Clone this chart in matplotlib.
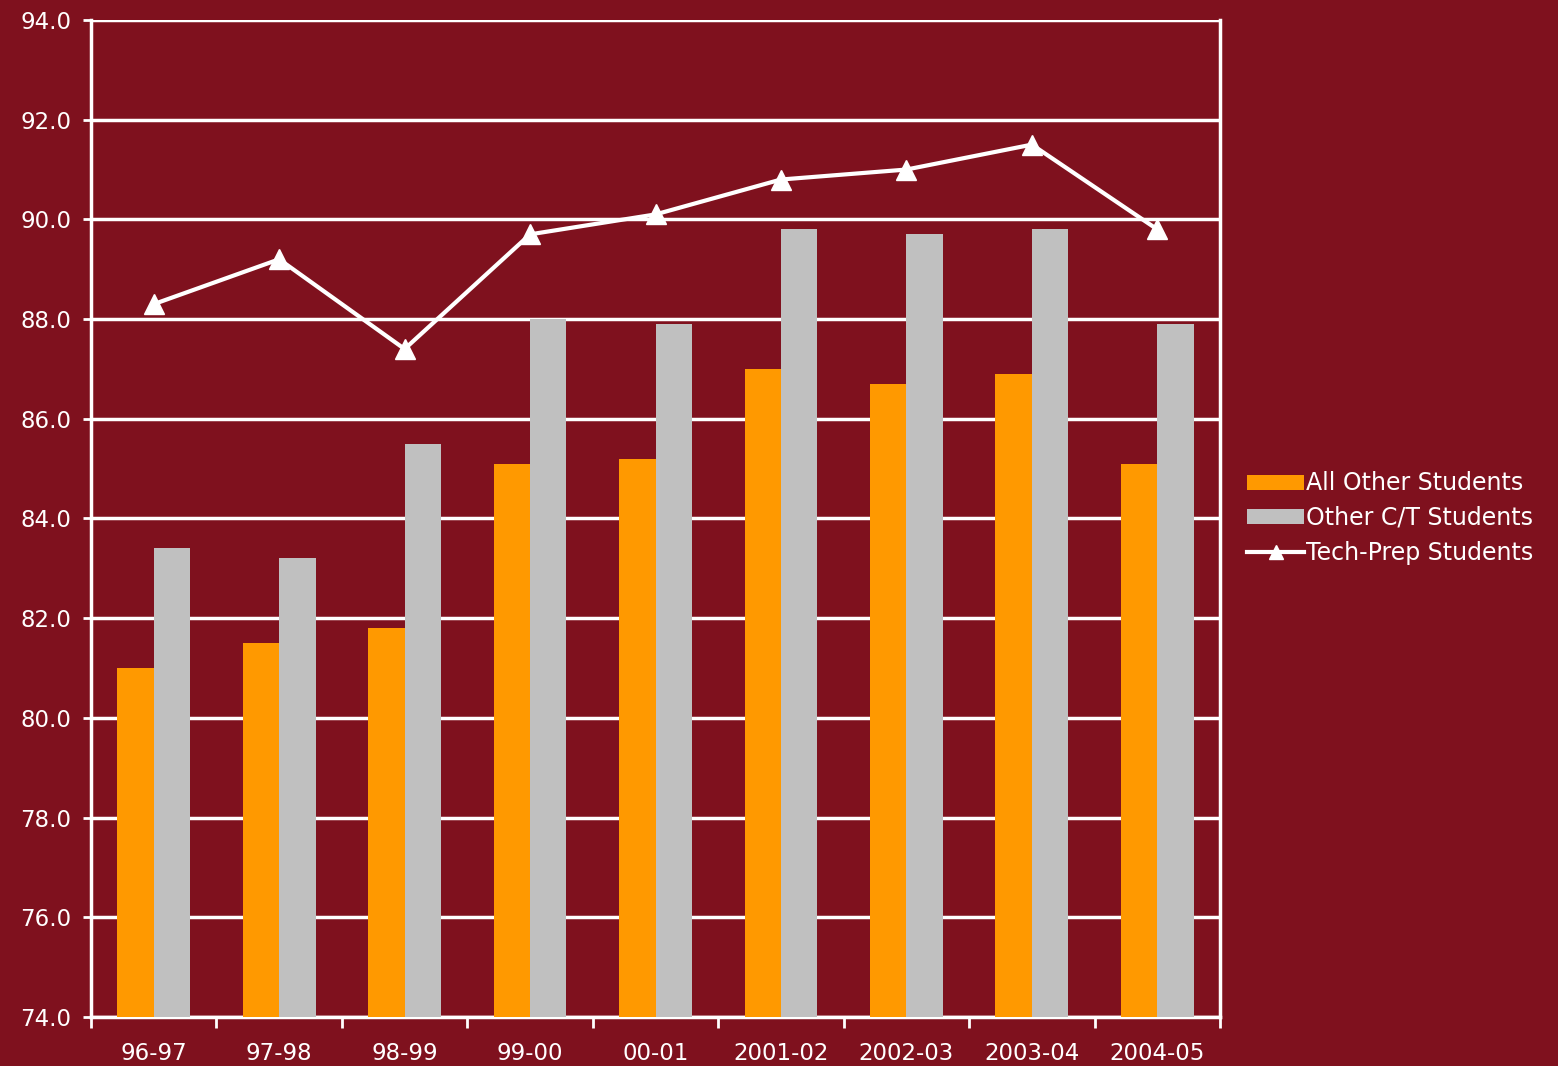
import numpy as np
import matplotlib.pyplot as plt
from matplotlib.lines import Line2D

years = ["96-97", "97-98", "98-99", "99-00", "00-01", "2001-02", "2002-03", "2003-04", "2004-05"]
all_other = [81.0, 81.5, 81.8, 85.1, 85.2, 87.0, 86.7, 86.9, 85.1]
other_ct = [83.4, 83.2, 85.5, 88.0, 87.9, 89.8, 89.7, 89.8, 87.9]
tech_prep = [88.3, 89.2, 87.4, 89.7, 90.1, 90.8, 91.0, 91.5, 89.8]

bg = "#7f111e"
white = "#ffffff"

fig = plt.figure(figsize=(15.58, 10.66), dpi=100, facecolor=bg)
ax = fig.add_axes([91 / 1558, 1 - 1017 / 1066, (1220 - 91) / 1558, (1017 - 20) / 1066])
ax.set_facecolor(bg)

x = np.arange(len(years)) + 0.5
w = 0.29
b1 = ax.bar(x - w / 2, [v - 74 for v in all_other], width=w, bottom=74, color="#ff9900",
            label="All Other Students", zorder=3)
b2 = ax.bar(x + w / 2, [v - 74 for v in other_ct], width=w, bottom=74, color="#c0c0c0",
            label="Other C/T Students", zorder=3)
ax.plot(x, tech_prep, color=white, lw=3, marker="^", markersize=14, zorder=4)

ax.set_xlim(0, len(years))
ax.set_ylim(74, 94)
ax.set_yticks(np.arange(74, 94.1, 2))
ax.set_yticklabels([f"{v:.1f}" for v in np.arange(74, 94.1, 2)])
ax.yaxis.grid(True, color=white, lw=2.5, zorder=1)
ax.set_axisbelow(True)

# category ticks at boundaries, labels centered
ax.set_xticks(np.arange(0, len(years) + 1))
ax.set_xticklabels([])
ax.set_xticks(x, minor=True)
ax.set_xticklabels(years, minor=True)
ax.tick_params(axis="x", which="minor", length=0, pad=18)
ax.tick_params(axis="x", which="major", length=8, width=2, color=white)
ax.tick_params(axis="y", length=6, width=2, color=white, pad=8)
ax.tick_params(axis="both", which="both", labelcolor=white, labelsize=16.5)

for s in ["left", "right", "bottom", "top"]:
    ax.spines[s].set_color(white)
    ax.spines[s].set_linewidth(2.5)
ax.spines["top"].set_visible(False)

line_h = Line2D([], [], color=white, lw=3, marker="^", markersize=10)
leg = fig.legend([b1, b2, line_h], ["All Other Students", "Other C/T Students", "Tech-Prep Students"],
                 loc="center left", bbox_to_anchor=(1226 / 1558, 1 - 518 / 1066),
                 frameon=False, fontsize=17, labelcolor=white, handlelength=2.4,
                 handleheight=0.6, handletextpad=0.1, labelspacing=0.45)

fig.savefig("out.png", dpi=100, facecolor=bg)
